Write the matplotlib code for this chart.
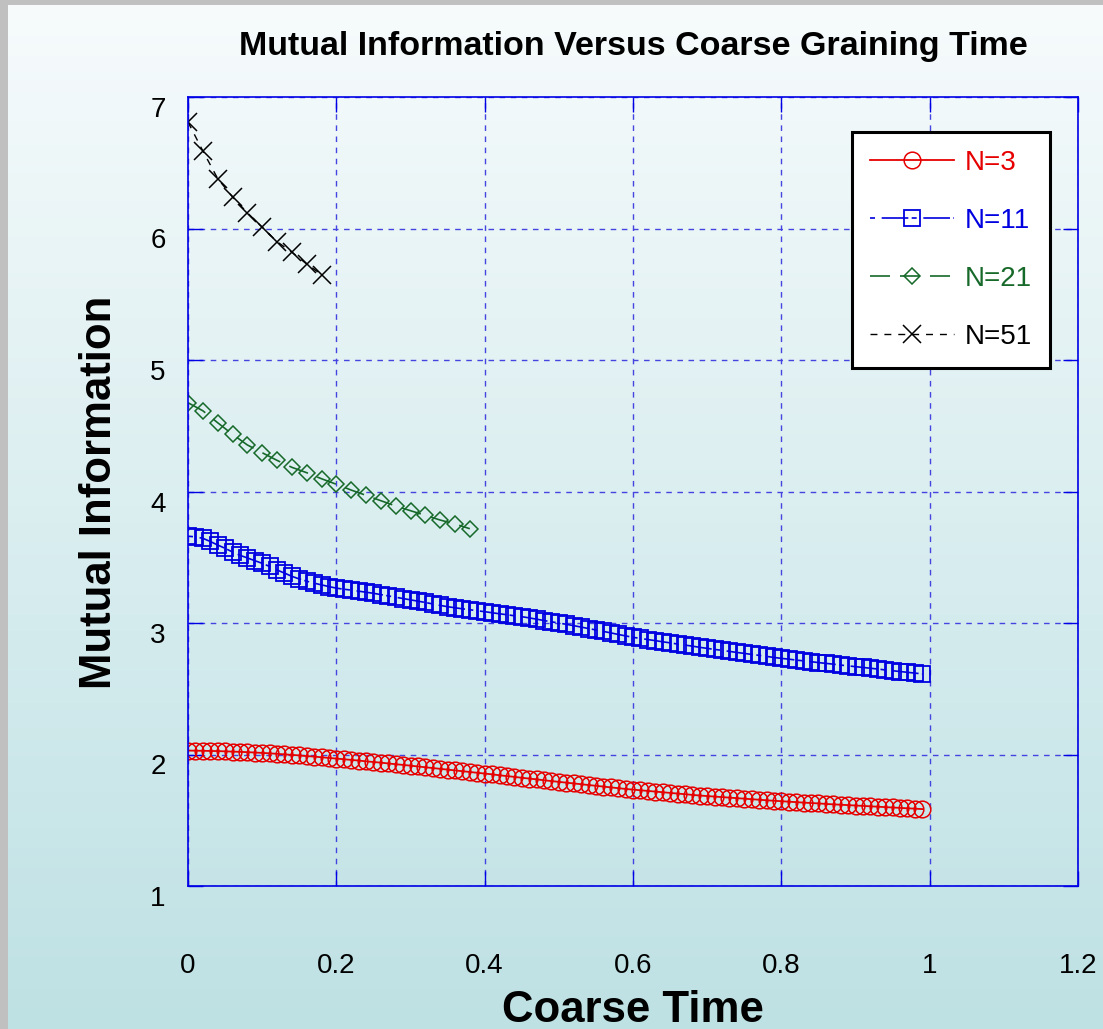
import matplotlib
matplotlib.use('Agg')
import matplotlib.pyplot as plt
import numpy as np
from matplotlib.patches import Rectangle

plt.rcParams['font.family'] = ['Liberation Sans', 'DejaVu Sans']

# coarse times (sampling grids of each run)
t_n3 = np.linspace(0, 0.99, 100)
t_n11 = np.linspace(0, 0.99, 100)
t_n21 = np.linspace(0, 0.38, 20)
t_n51 = np.linspace(0, 0.18, 10)

mi_n3 = [2.030, 2.029, 2.028, 2.027, 2.026, 2.024, 2.022, 2.020, 2.018, 2.015,
         2.012, 2.009, 2.005, 2.001, 1.997, 1.993, 1.988, 1.984, 1.979, 1.974,
         1.969, 1.964, 1.959, 1.954, 1.948, 1.943, 1.938, 1.932, 1.926, 1.921,
         1.915, 1.909, 1.903, 1.897, 1.891, 1.885, 1.879, 1.873, 1.867, 1.861,
         1.855, 1.849, 1.842, 1.836, 1.830, 1.823, 1.817, 1.811, 1.804, 1.798,
         1.792, 1.786, 1.780, 1.774, 1.768, 1.762, 1.756, 1.750, 1.744, 1.738,
         1.733, 1.728, 1.723, 1.718, 1.713, 1.708, 1.703, 1.698, 1.693, 1.688,
         1.684, 1.680, 1.676, 1.672, 1.668, 1.664, 1.660, 1.656, 1.652, 1.648,
         1.645, 1.641, 1.638, 1.634, 1.631, 1.628, 1.624, 1.621, 1.618, 1.615,
         1.612, 1.609, 1.606, 1.603, 1.600, 1.597, 1.594, 1.591, 1.588, 1.585]

mi_n11 = [3.660, 3.655, 3.644, 3.620, 3.593, 3.568, 3.540, 3.515, 3.495, 3.474,
          3.454, 3.430, 3.403, 3.380, 3.355, 3.335, 3.318, 3.303, 3.290, 3.277,
          3.265, 3.257, 3.250, 3.242, 3.234, 3.226, 3.216, 3.206, 3.196, 3.186,
          3.176, 3.166, 3.156, 3.145, 3.134, 3.124, 3.116, 3.108, 3.101, 3.093,
          3.086, 3.078, 3.070, 3.063, 3.055, 3.048, 3.039, 3.029, 3.019, 3.009,
          3.000, 2.990, 2.980, 2.969, 2.958, 2.947, 2.936, 2.925, 2.913, 2.902,
          2.891, 2.883, 2.874, 2.866, 2.857, 2.849, 2.840, 2.832, 2.824, 2.815,
          2.807, 2.799, 2.792, 2.784, 2.776, 2.769, 2.761, 2.754, 2.746, 2.738,
          2.731, 2.725, 2.718, 2.712, 2.706, 2.699, 2.693, 2.687, 2.680, 2.674,
          2.668, 2.662, 2.656, 2.650, 2.643, 2.637, 2.631, 2.625, 2.619, 2.613]

mi_n21 = [4.675, 4.614, 4.523, 4.435, 4.354, 4.295, 4.237, 4.184, 4.143, 4.097,
          4.055, 4.011, 3.971, 3.930, 3.890, 3.854, 3.819, 3.783, 3.753, 3.717]

mi_n51 = [6.81, 6.59, 6.38, 6.24, 6.12, 6.01, 5.90, 5.82, 5.73, 5.65]

x_ticks = [0, 0.2, 0.4, 0.6, 0.8, 1.0, 1.2]
x_tick_labels = ['0', '0.2', '0.4', '0.6', '0.8', '1', '1.2']
y_ticks = [1, 2, 3, 4, 5, 6, 7]

red = '#e60000'
blue = '#0000e0'
green = '#17692a'
frame_blue = '#0000e6'

W, H = 1103, 1029
fig = plt.figure(figsize=(W / 100, H / 100), dpi=100)

# gradient background + grey border
bg = fig.add_axes([0, 0, 1, 1], zorder=-10)
top = np.array([247, 251, 252]) / 255
bot = np.array([190, 225, 228]) / 255
f = np.linspace(0, 1, 256)[:, None, None]
img = top * (1 - f) + bot * f
bg.imshow(img, aspect='auto', extent=[0, 1, 0, 1])
bg.add_patch(Rectangle((0, 0), 8 / W, 1, color='#c0c0c0', lw=0))
bg.add_patch(Rectangle((0, 1 - 5 / H), 1, 5 / H, color='#c0c0c0', lw=0))
bg.set_xlim(0, 1)
bg.set_ylim(0, 1)
bg.axis('off')

ax = fig.add_axes([188 / W, 143 / H, 890 / W, 789 / H])
ax.patch.set_alpha(0)

ax.plot(t_n3, mi_n3, color=red, lw=1.3, ls='-', marker='o', ms=12,
        mfc='none', mew=1.1, label='N=3')
ax.plot(t_n11, mi_n11, color=blue, lw=1.2, ls=(0, (3, 4, 16, 2)), marker='s', ms=11.5,
        mfc='none', mew=1.3, label='N=11')
ax.plot(t_n21, mi_n21, color=green, lw=1.2, ls=(0, (12, 6)), marker='D', ms=8.3,
        mfc='none', mew=1.1, label='N=21')
ax.plot(t_n51, mi_n51, color='black', lw=1.0, ls=(0, (5, 5)), marker='x', ms=12.5,
        mew=1.1, label='N=51')

ax.set_xlim(0, 1.2)
ax.set_ylim(1, 7)
ax.set_xticks(x_ticks)
ax.set_xticklabels(x_tick_labels)
ax.set_yticks(y_ticks)
ax.grid(True, color='#4444e0', ls=(0, (4, 4)), lw=1.0)
ax.tick_params(direction='in', length=11, width=1.0, color=frame_blue,
               top=True, right=True, labelsize=20)
ax.tick_params(axis='x', pad=48)
ax.tick_params(axis='y', pad=16)
for lab in ax.get_yticklabels():
    lab.set_va('top')
for s in ax.spines.values():
    s.set_color(frame_blue)
    s.set_linewidth(1.2)

leg = ax.legend(loc='upper right', bbox_to_anchor=(1050 / W, 1 - 132 / H),
                bbox_transform=fig.transFigure, borderaxespad=0, fontsize=20,
                frameon=True, fancybox=False, edgecolor='black', framealpha=1,
                labelcolor='linecolor', handlelength=3.0, handletextpad=0.4,
                labelspacing=1.15, borderpad=0.65, numpoints=1)
leg.get_frame().set_linewidth(2.2)

fig.text(633 / W, 1 - 47 / H, 'Mutual Information Versus Coarse Graining Time',
         ha='center', va='center', fontsize=24.5, fontweight='bold')
fig.text(100 / W, 1 - 492 / H, 'Mutual Information', rotation=90,
         ha='center', va='center', fontsize=31.5, fontweight='bold')
fig.text(633 / W, 1 - 1010 / H, 'Coarse Time',
         ha='center', va='center', fontsize=31.5, fontweight='bold')

fig.savefig('out.png', dpi=100)
